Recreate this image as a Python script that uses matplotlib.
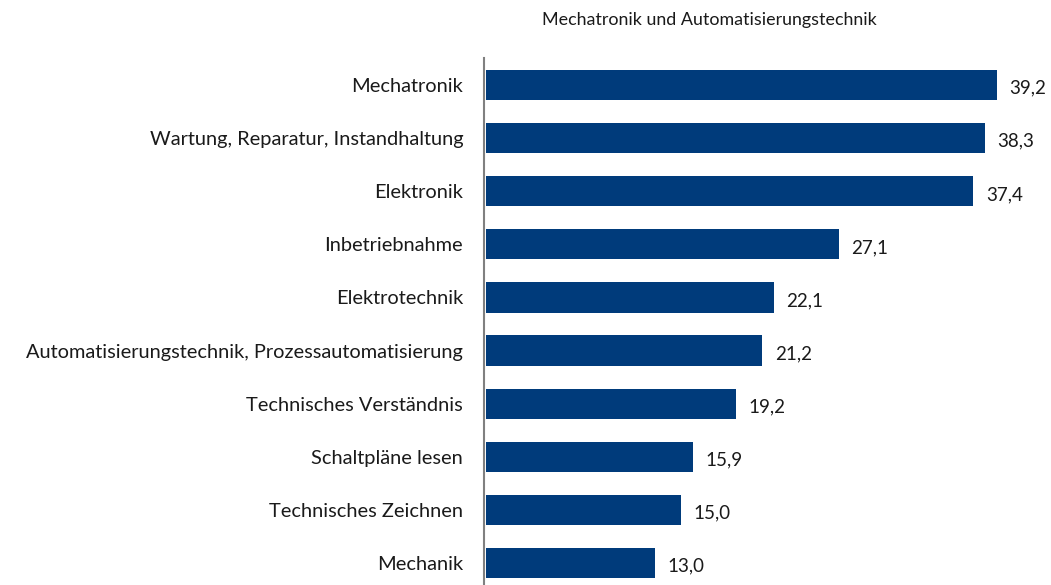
import matplotlib.pyplot as plt

# Data
categories = [
    "Mechatronik",
    "Wartung, Reparatur, Instandhaltung",
    "Elektronik",
    "Inbetriebnahme",
    "Elektrotechnik",
    "Automatisierungstechnik, Prozessautomatisierung",
    "Technisches Verständnis",
    "Schaltpläne lesen",
    "Technisches Zeichnen",
    "Mechanik",
]
values = [39.2, 38.3, 37.4, 27.1, 22.1, 21.2, 19.2, 15.9, 15.0, 13.0]
title = "Mechatronik und Automatisierungstechnik"

plt.rcParams['font.family'] = ['Lato', 'DejaVu Sans']

fig = plt.figure(figsize=(10.51, 5.85), dpi=100)
ax = fig.add_axes([484 / 1051, 0.0, 1 - 484 / 1051, 1 - 58 / 585])

pos = list(range(len(categories)))
ax.barh(pos, values, height=0.57, color='#003b7b', left=0.15)

for p, v in zip(pos, values):
    ax.text(v + 1.1, p + 0.06, f"{v:.1f}".replace('.', ','), va='center', ha='left',
            fontsize=13.5, color='#1a1a1a')

ax.set_xlim(0, 43.5)
ax.set_ylim(9.414, -0.508)
ax.set_yticks(pos)
ax.set_yticklabels(categories, fontsize=14.4, color='#1a1a1a')
ax.tick_params(axis='y', length=0, pad=15)
ax.set_xticks([])

for s in ['top', 'right', 'bottom']:
    ax.spines[s].set_visible(False)
ax.spines['left'].set_color('#808080')
ax.spines['left'].set_linewidth(1.5)

fig.text(709 / 1051, 1 - 20 / 585, title, ha='center', va='center', fontsize=12.9, color='#1a1a1a')

plt.savefig('out.png', dpi=100)
